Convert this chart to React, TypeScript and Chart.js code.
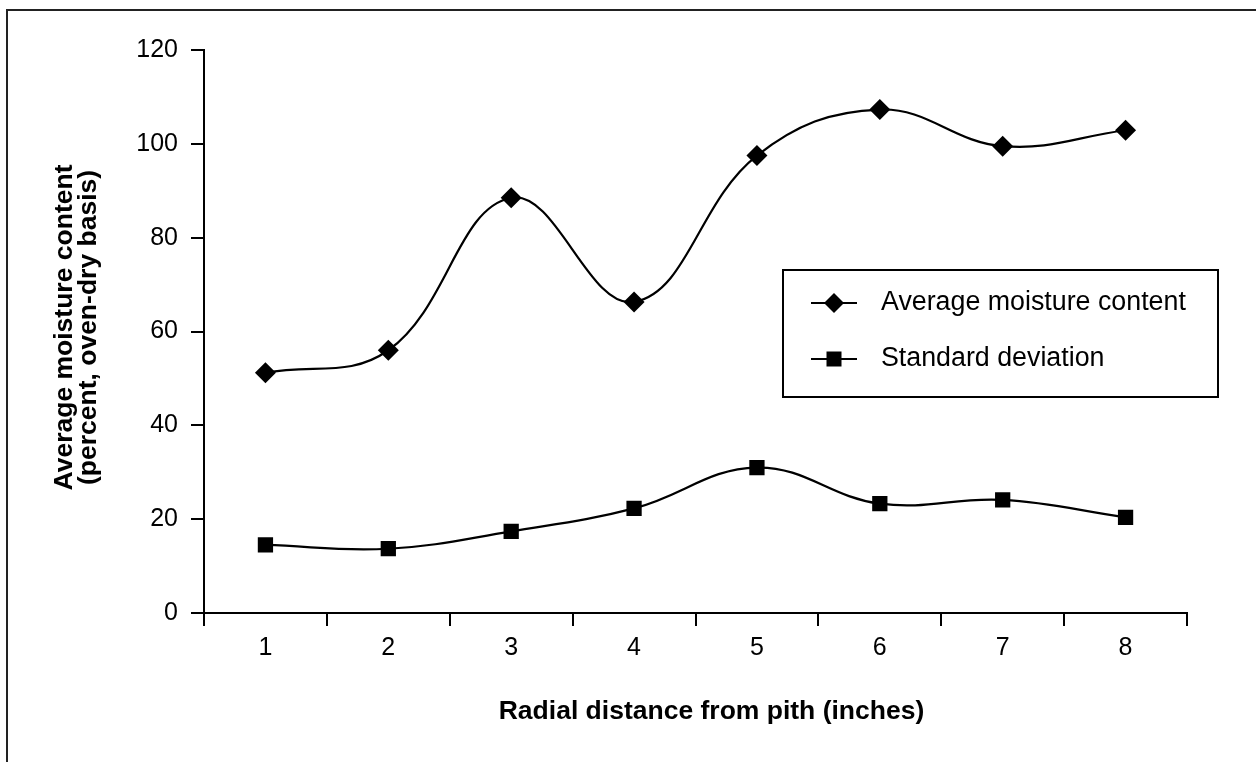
import React, { useEffect, useRef } from "react";
import { Chart, registerables } from "chart.js";

Chart.register(...registerables);

const categories = ["1", "2", "3", "4", "5", "6", "7", "8"];
const averageMoisture = [51.2, 56.0, 88.5, 66.3, 97.5, 107.3, 99.5, 102.9];
const standardDeviation = [14.5, 13.7, 17.4, 22.3, 31.0, 23.3, 24.1, 20.4];
const yTickValues = [0, 20, 40, 60, 80, 100, 120];
const seriesNames = ["Average moisture content", "Standard deviation"];
const xTitle = "Radial distance from pith (inches)";
const yTitleLines = ["Average moisture content", "(percent, oven-dry basis)"];

const FONT = "'Liberation Sans', Arial, Helvetica, sans-serif";
const W = 1256;
const H = 762;

const decorPlugin = {
  id: "decor",
  beforeDraw(chart: any) {
    const ctx = chart.ctx;
    ctx.save();
    ctx.fillStyle = "#ffffff";
    ctx.fillRect(0, 0, chart.width, chart.height);
    ctx.restore();
  },
  afterDraw(chart: any) {
    const ctx = chart.ctx;
    const area = chart.chartArea;
    ctx.save();
    // outer frame
    ctx.strokeStyle = "#222";
    ctx.lineWidth = 2;
    ctx.beginPath();
    ctx.moveTo(7, H + 10);
    ctx.lineTo(7, 10);
    ctx.lineTo(W + 10, 10);
    ctx.stroke();

    // x title
    ctx.fillStyle = "#000";
    ctx.font = `bold 26.5px ${FONT}`;
    ctx.textAlign = "center";
    ctx.textBaseline = "middle";
    ctx.fillText(xTitle, area.left + (area.right - area.left) / 2 + 16, 712);

    // y title (rotated)
    const cy = area.top + (area.bottom - area.top) / 2 - 4;
    ctx.save();
    ctx.translate(65, cy);
    ctx.rotate(-Math.PI / 2);
    ctx.fillText(yTitleLines[0], 0, 0);
    ctx.restore();
    ctx.save();
    ctx.translate(89, cy);
    ctx.rotate(-Math.PI / 2);
    ctx.fillText(yTitleLines[1], 0, 0);
    ctx.restore();

    // legend
    const lx = 783, ly = 270, lw = 435, lh = 127;
    ctx.strokeStyle = "#000";
    ctx.lineWidth = 2;
    ctx.strokeRect(lx, ly, lw, lh);
    const rows = [303, 359];
    chart.data.datasets.forEach((ds: any, i: number) => {
      const y = rows[i];
      ctx.strokeStyle = "#000";
      ctx.lineWidth = 2;
      ctx.beginPath();
      ctx.moveTo(811, y);
      ctx.lineTo(857, y);
      ctx.stroke();
      ctx.fillStyle = "#000";
      const cx = 834;
      if (ds.pointStyle === "rectRot") {
        const r = 10;
        ctx.beginPath();
        ctx.moveTo(cx - r, y);
        ctx.lineTo(cx, y - r);
        ctx.lineTo(cx + r, y);
        ctx.lineTo(cx, y + r);
        ctx.closePath();
        ctx.fill();
      } else {
        const s = 7.5;
        ctx.fillRect(cx - s, y - s, 2 * s, 2 * s);
      }
      ctx.font = `26.8px ${FONT}`;
      ctx.textAlign = "left";
      ctx.textBaseline = "middle";
      ctx.fillText(ds.label, 881, y);
    });
    ctx.restore();
  },
};

export default function App() {
  const canvasRef = useRef<HTMLCanvasElement | null>(null);

  useEffect(() => {
    if (!canvasRef.current) return;
    const chart = new Chart(canvasRef.current, {
      type: "line",
      data: {
        labels: categories,
        datasets: [
          {
            label: seriesNames[0],
            data: averageMoisture,
            borderColor: "#000",
            backgroundColor: "#000",
            borderWidth: 2.2,
            tension: 0.4,
            pointStyle: "rectRot",
            pointRadius: 10.5,
            pointBorderWidth: 0,
            pointBackgroundColor: "#000",
            fill: false,
          },
          {
            label: seriesNames[1],
            data: standardDeviation,
            borderColor: "#000",
            backgroundColor: "#000",
            borderWidth: 2.2,
            tension: 0.4,
            pointStyle: "rect",
            pointRadius: 10.8,
            pointBorderWidth: 0,
            pointBackgroundColor: "#000",
            fill: false,
          },
        ],
      },
      options: {
        responsive: false,
        animation: false,
        devicePixelRatio: 1,
        layout: { padding: { left: 0, right: 69, top: 50, bottom: 0 } },
        plugins: {
          legend: { display: false },
          tooltip: { enabled: false },
          title: { display: false },
        },
        scales: {
          x: {
            type: "category",
            offset: true,
            grid: {
              offset: true,
              drawOnChartArea: false,
              drawTicks: true,
              tickLength: 13,
              color: "#000",
              lineWidth: 2,
            },
            border: { display: true, color: "#000", width: 2 },
            ticks: {
              color: "#000",
              font: { family: FONT, size: 25 },
              padding: 7,
              maxRotation: 0,
              autoSkip: false,
            },
            afterFit: (s: any) => {
              s.height = H - 613;
            },
          },
          y: {
            type: "linear",
            min: 0,
            max: 120,
            afterBuildTicks: (s: any) => {
              s.ticks = yTickValues.map((v) => ({ value: v }));
            },
            grid: {
              drawOnChartArea: false,
              drawTicks: true,
              tickLength: 13,
              color: "#000",
              lineWidth: 2,
            },
            border: { display: true, color: "#000", width: 2 },
            ticks: {
              color: "#000",
              font: { family: FONT, size: 25 },
              padding: 13,
            },
            afterFit: (s: any) => {
              s.width = 204;
            },
          },
        },
      },
      plugins: [decorPlugin],
    });
    return () => chart.destroy();
  }, []);

  return (
    <div style={{ position: "absolute", left: 0, top: 0, width: W, height: H, background: "#fff" }}>
      <canvas ref={canvasRef} width={W} height={H} style={{ display: "block", width: W, height: H }} />
    </div>
  );
}
